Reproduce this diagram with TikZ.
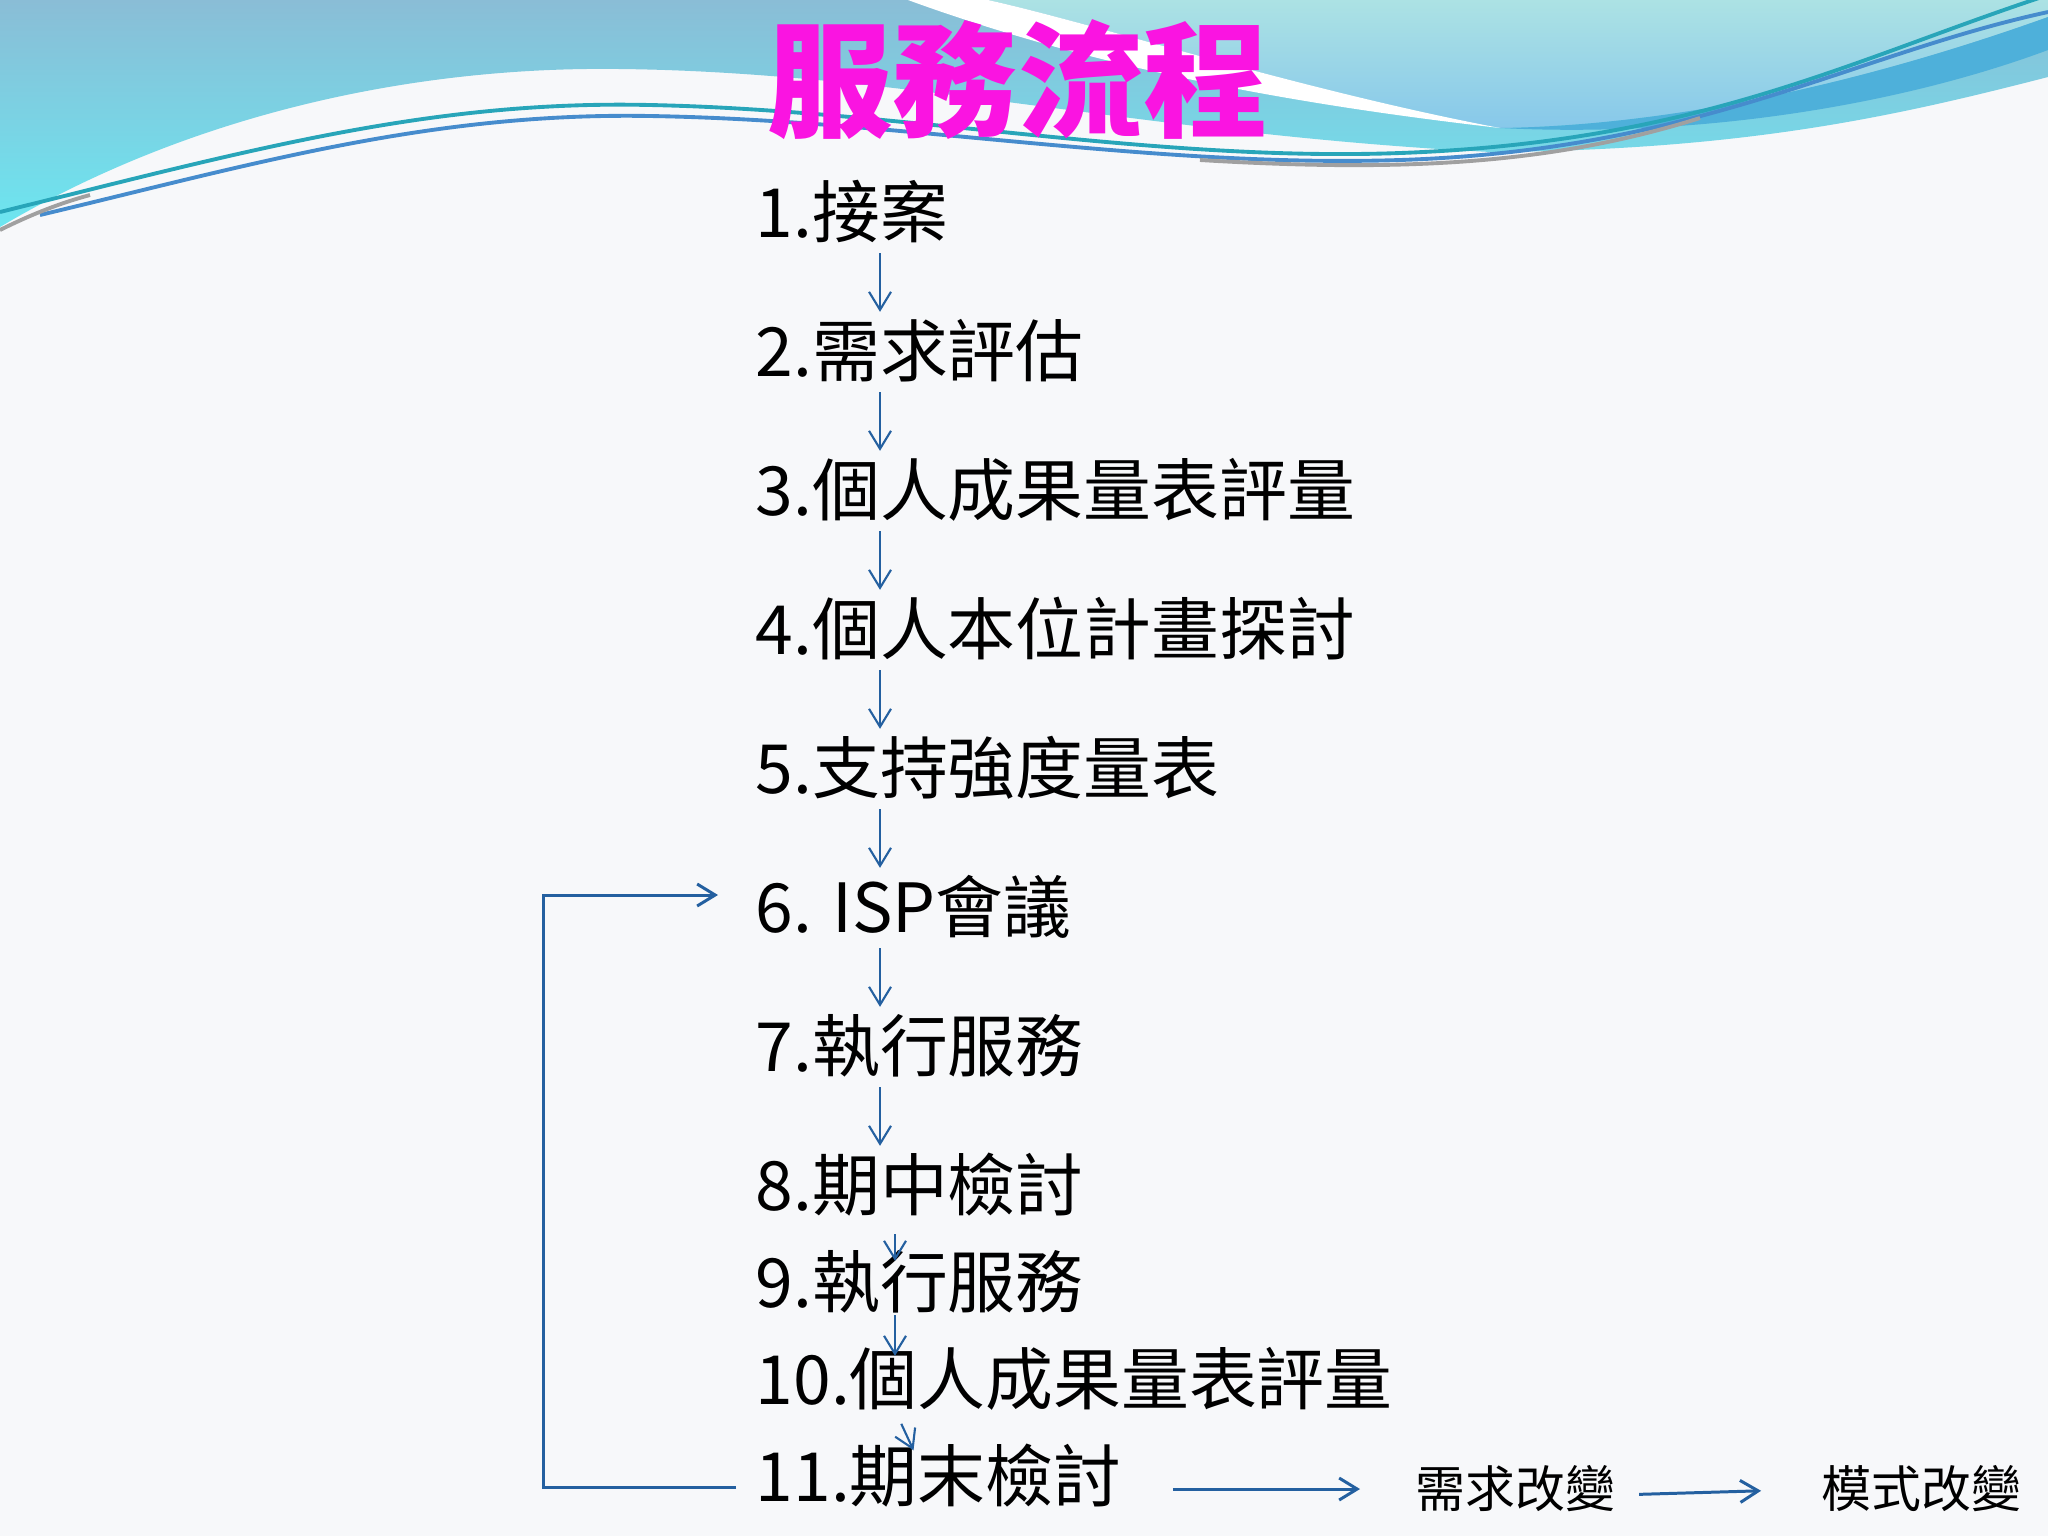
\documentclass[tikz,border=0pt]{standalone}
\usepackage{fontspec}
\newfontfamily\cjk{Noto Sans CJK TC}
\usetikzlibrary{arrows.meta,positioning}

\definecolor{flowblue}{RGB}{36,96,160}
\definecolor{titlepink}{RGB}{250,20,225}
\definecolor{sky}{RGB}{138,189,214}
\definecolor{aqua}{RGB}{108,230,240}
\definecolor{pale}{RGB}{172,226,228}
\definecolor{midblue}{RGB}{135,200,234}
\definecolor{band}{RGB}{78,176,218}
\definecolor{paper}{RGB}{247,248,250}
\definecolor{wireteal}{RGB}{40,165,185}
\definecolor{wireblue}{RGB}{70,140,205}
\definecolor{wiregray}{RGB}{160,160,160}

\begin{document}
\begin{tikzpicture}
  [x=0.1mm,y=-0.1mm,
  flow/.style={->,>={Straight Barb[length=1.8mm,width=2.2mm]},draw=flowblue,line width=0.6pt},
  wire/.style={line width=1.1pt},
  item node/.style={anchor=west,inner sep=0pt,text height=16pt,text depth=1.35pt,
  font=\cjk\fontsize{19.3}{21}\selectfont},
  note node/.style={anchor=west,inner sep=0pt,font=\cjk\fontsize{14.2}{16}\selectfont},
  title node/.style={inner sep=0pt,text=titlepink,text height=29.5pt,text depth=2.5pt,
  font=\cjk\bfseries\fontsize{35.6}{38}\selectfont}]

  \useasboundingbox (0,0) rectangle (2048,1536);
  % backdrop
  \fill[paper] (0,0) rectangle (2048,1536);
  \shade[top color=sky,bottom color=aqua] (0,0) -- (2048,0) -- (2048,77)
    .. controls (1900,115) and (1750,150) .. (1491,152)
    .. controls (1150,135) and (900,72) .. (620,69)
    .. controls (400,66) and (180,120) .. (0,227) -- cycle;
  \shade[top color=pale,bottom color=midblue] (988,0) -- (2048,0) -- (2048,17)
    .. controls (1900,70) and (1700,125) .. (1500,128)
    .. controls (1300,90) and (1100,25) .. (988,0) -- cycle;
  \fill[band] (2048,17) .. controls (1900,70) and (1700,125) .. (1500,128)
    .. controls (1700,138) and (1900,105) .. (2048,50) -- cycle;
  \fill[white] (908,0) -- (988,0) .. controls (1100,25) and (1300,90) .. (1500,128)
    .. controls (1300,105) and (1100,70) .. (908,0) -- cycle;
  \draw[wire,wireteal] (0,212) .. controls (250,150) and (430,100) .. (650,105)
    .. controls (900,110) and (1150,162) .. (1400,153)
    .. controls (1700,142) and (1850,60) .. (2048,-5);
  \draw[wire,wireblue] (40,215) .. controls (250,165) and (430,112) .. (650,116)
    .. controls (900,120) and (1150,168) .. (1400,160)
    .. controls (1700,150) and (1850,55) .. (2048,12);
  \draw[wire,wiregray] (1200,160) .. controls (1400,172) and (1550,165) .. (1700,118);
  \draw[wire,wiregray] (0,230) .. controls (30,215) and (60,203) .. (90,195);

  \node[title node] (title) at (1018,80) {服務流程};

  \node[item node] (n1) at (755,212) {1.接案};
  \node[item node] (n2) [below=13.9mm of n1.west,anchor=west] {2.需求評估};
  \node[item node] (n3) [below=13.9mm of n2.west,anchor=west] {3.個人成果量表評量};
  \node[item node] (n4) [below=13.9mm of n3.west,anchor=west] {4.個人本位計畫探討};
  \node[item node] (n5) [below=13.9mm of n4.west,anchor=west] {5.支持強度量表};
  \node[item node] (n6) [below=13.9mm of n5.west,anchor=west] {6. ISP會議};
  \node[item node] (n7) [below=13.9mm of n6.west,anchor=west] {7.執行服務};
  \node[item node] (n8) [below=13.9mm of n7.west,anchor=west] {8.期中檢討};
  \node[item node] (n9) [below=9.7mm of n8.west,anchor=west] {9.執行服務};
  \node[item node] (n10) [below=9.7mm of n9.west,anchor=west] {10.個人成果量表評量};
  \node[item node] (n11) [below=9.7mm of n10.west,anchor=west] {11.期末檢討};
  \node[note node] (c1) at (1415,1489) {需求改變};
  \node[note node] (c2) [right=20.5mm of c1] {模式改變};

  \coordinate (ax) at (880,0);
  \coordinate (bx) at (895,0);
  \coordinate (cx) at (911,0);
  \coordinate (lp) at (543,1200);
  \foreach \a/\b in {n1/n2,n2/n3,n3/n4,n4/n5,n5/n6,n6/n7,n7/n8}
    \draw[flow,shorten <=1mm,shorten >=0.8mm] (\a.south -| ax) -- (\b.north -| ax);
  \draw[flow,shorten <=1.8mm,shorten >=-1mm] (n8.south -| bx) -- (n9.north -| bx);
  \draw[flow,shorten <=0.2mm,shorten >=-0.8mm] (n9.south -| bx) -- (n10.north -| bx);
  \draw[flow,shorten <=1.5mm,shorten >=-0.6mm] (n10.south -| bx) -- (n11.north -| cx);
  % back to the ISP meeting
  \draw[flow,line width=0.85pt] ([xshift=-1.9mm,yshift=-1.1mm]n11.west) -| (lp)
    |- ([xshift=-3.7mm,yshift=1.2mm]n6.west);
  \draw[flow,line width=0.85pt,shorten <=5.1mm,shorten >=5.5mm] (n11.east |- c1.west) -- (c1.west);
  \draw[flow,line width=0.85pt,shorten <=2.3mm,shorten >=6mm] ([yshift=-.6mm]c1.east) -- (c2.west);
\end{tikzpicture}
\end{document}
